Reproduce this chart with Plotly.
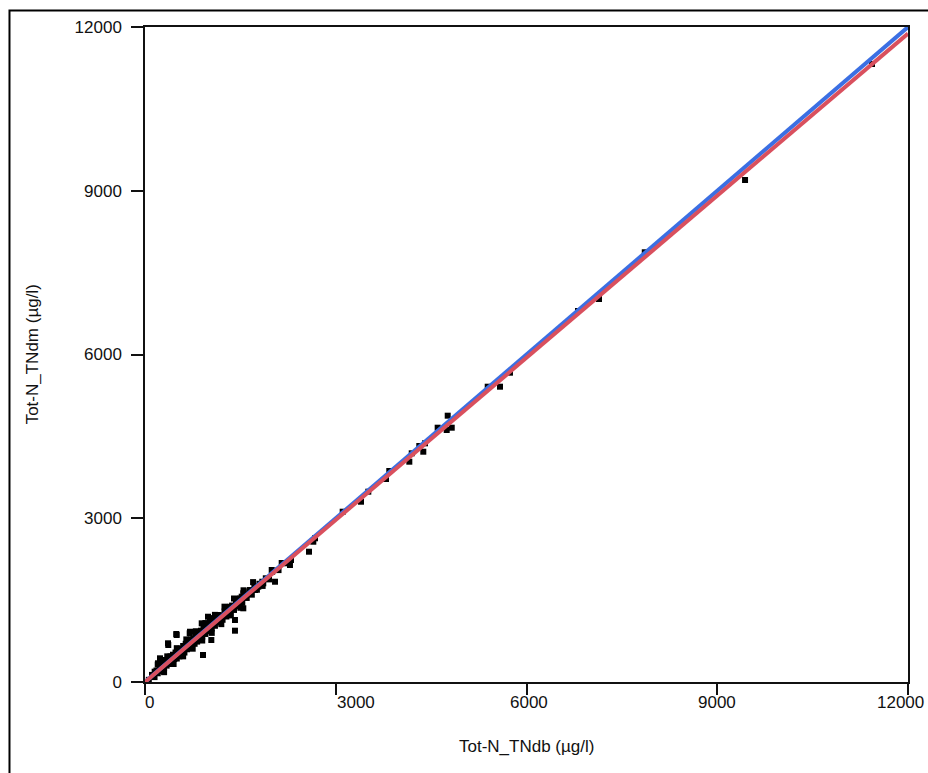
import plotly.graph_objects as go

# Measured total nitrogen: TNdb (x) vs TNdm (y), µg/l
tn_db = [
    60, 110, 150, 180, 200, 230, 250, 270, 300, 320, 340, 360, 380, 400, 420, 440,
    460, 480, 500, 520, 540, 560, 580, 600, 620, 640, 660, 680, 700, 720, 740, 760,
    780, 800, 820, 840, 860, 880, 900, 920, 950, 980, 1000, 1030, 1050, 1080, 1100,
    1130, 1160, 1190, 1220, 1250, 1280, 1310, 1340, 1370, 1400, 1430, 1460, 1500,
    1530, 1560, 1600, 1640, 1680, 1720, 1760, 1800, 1850, 1900, 1950, 2000, 2100, 2150,
    300, 450, 600, 750, 900, 1050, 1200, 1350, 1500,
    200, 350, 500, 650, 800, 950, 1100, 1250, 1400, 1550, 1700,
    152, 204, 236, 283, 366, 362, 492, 498, 703, 708, 892, 912, 991, 1022, 1043, 1074,
    1148, 1153, 1337, 1415, 1415, 1494, 1521, 1546, 1546, 1651, 1730, 1782, 1845, 1860,
    1993, 2045, 2229, 2280, 2296, 2579, 2647,
    2674, 3109, 3397, 3512, 3790, 3842, 4157, 4195, 4314, 4377, 4404, 4603, 4745, 4761,
    4824, 5390, 5583, 5740, 6810, 7140, 7860, 9437, 11434,
]
tn_dm = [
    40, 130, 90, 210, 160, 260, 200, 330, 250, 380, 300, 420, 330, 470, 360, 500,
    420, 540, 430, 600, 470, 610, 520, 660, 540, 700, 600, 720, 640, 780, 660, 800,
    700, 860, 740, 900, 780, 940, 830, 980, 880, 1040, 930, 1100, 980, 1120, 1030,
    1180, 1090, 1220, 1140, 1290, 1200, 1330, 1260, 1400, 1320, 1470, 1390, 1520,
    1450, 1600, 1540, 1660, 1600, 1740, 1690, 1800, 1760, 1900, 1880, 2020, 2050, 2180,
    180, 330, 470, 610, 760, 900, 1060, 1220, 1360,
    320, 470, 620, 780, 930, 1080, 1230, 1380, 1530, 1680, 1830,
    189, 343, 434, 403, 678, 709, 879, 861, 892, 921, 1075, 495, 1196, 1167, 769, 1167,
    1136, 1227, 1379, 1136, 940, 1533, 1563, 1625, 1350, 1685, 1685, 1746, 1837, 1808,
    2052, 1837, 2175, 2143, 2235, 2387, 2570,
    2633, 3120, 3303, 3487, 3719, 3866, 4036, 4190, 4324, 4219, 4373, 4659, 4617, 4879,
    4659, 5410, 5410, 5667, 6797, 7017, 7873, 9197, 11322,
]

# Reference lines: 1:1 line and fitted regression
line_x = [0, 12000]
identity_y = [0, 12000]
fit_slope = 0.99
fit_y = [fit_slope * v for v in line_x]

axis_ticks = [0, 3000, 6000, 9000, 12000]
tick_text = ["0", "3000", "6000", "9000", "12000"]
# horizontal nudges (px) for the bottom tick labels so the end labels stay on the page
x_label_shift = [4, 20, 2, 0, -8]

FONT = "Liberation Sans, Arial, sans-serif"
INK = "#111111"

fig = go.Figure()
fig.add_trace(go.Scatter(
    x=tn_db, y=tn_dm, mode="markers",
    marker=dict(symbol="square", size=6, color="black", line=dict(width=0)),
    showlegend=False, hoverinfo="x+y",
))
fig.add_trace(go.Scatter(
    x=line_x, y=identity_y, mode="lines",
    line=dict(color="#3b6fe3", width=4), showlegend=False,
))
fig.add_trace(go.Scatter(
    x=line_x, y=fit_y, mode="lines",
    line=dict(color="#d9505e", width=4), showlegend=False,
))

axis_common = dict(
    range=[0, 12000], tickvals=axis_ticks, ticktext=tick_text,
    ticks="outside", tickwidth=1.5, tickcolor=INK,
    showline=True, linecolor=INK, linewidth=1.5, mirror=True,
    showgrid=False, zeroline=False,
    tickfont=dict(family=FONT, size=17, color=INK),
)
fig.update_xaxes(**axis_common, ticklen=11, showticklabels=False)
fig.update_yaxes(**axis_common, ticklen=12, ticklabelstandoff=6)

annotations = [
    dict(text=t, xref="x", yref="paper", x=v, y=-0.031,
         xanchor="center", yanchor="middle", xshift=s, showarrow=False,
         font=dict(family=FONT, size=17, color=INK))
    for v, t, s in zip(axis_ticks, tick_text, x_label_shift)
]
annotations += [
    dict(text="Tot-N_TNdb (µg/l)", xref="paper", yref="paper",
         x=0.5, y=-0.099, xanchor="center", yanchor="middle",
         showarrow=False, font=dict(family=FONT, size=17, color=INK)),
    dict(text="Tot-N_TNdm (µg/l)", xref="paper", yref="paper",
         x=-0.147, y=0.5, xanchor="center", yanchor="middle", textangle=-90,
         showarrow=False, font=dict(family=FONT, size=17, color=INK)),
]

fig.update_layout(
    width=928, height=773,
    margin=dict(l=145, r=20, t=27, b=91),
    paper_bgcolor="white", plot_bgcolor="white",
    font=dict(family=FONT, size=17, color=INK),
    annotations=annotations,
    shapes=[
        dict(type="rect", xref="paper", yref="paper",
             x0=-0.1776, x1=1.05, y0=-0.2, y1=1.0252,
             line=dict(color="black", width=2), fillcolor="rgba(0,0,0,0)",
             layer="below"),
    ],
)

fig.write_html("out.html")
